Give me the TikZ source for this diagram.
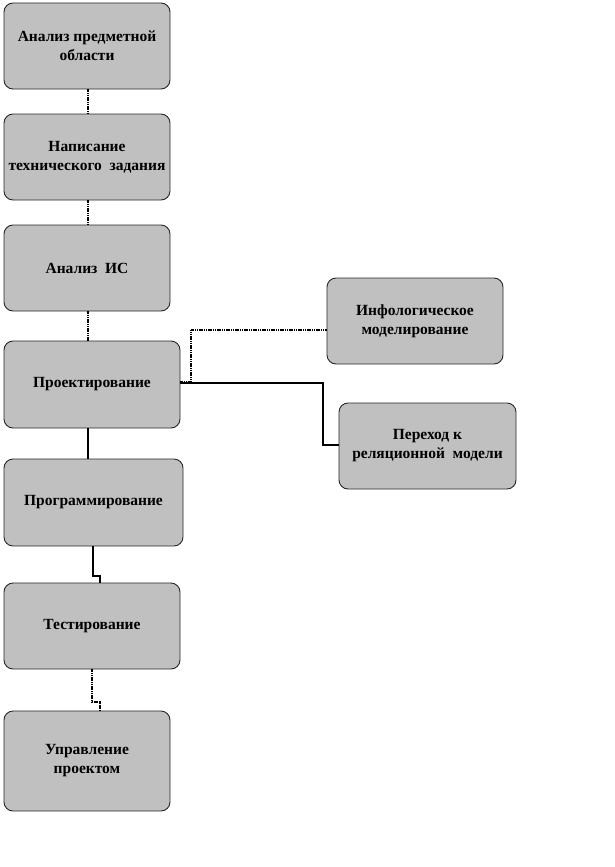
\documentclass[tikz,border=0pt]{standalone}
\usepackage{fontspec}
\setmainfont{Liberation Serif}
\definecolor{boxgray}{RGB}{192,192,192}
\definecolor{edgegray}{RGB}{40,40,40}
\begin{document}
\begin{tikzpicture}[x=1pt,y=-1pt,
  stage/.style={draw=edgegray, line width=0.9pt, fill=boxgray, rounded corners=9pt,
    align=center, font=\bfseries\fontsize{15.5}{19}\selectfont, inner sep=0pt},
  dotlink/.style={line width=2.8pt, dash pattern=on 1.2pt off 0.6pt},
  sollink/.style={line width=2.8pt}]
\useasboundingbox (0,0) rectangle (615,867);
\node[stage, minimum width=166pt, minimum height=86pt] (a) at (87,46) {Анализ предметной\\области};
\node[stage, minimum width=166pt, minimum height=86pt] (b) at (87,157) {Написание\\технического\ \ задания};
\node[stage, minimum width=166pt, minimum height=86pt] (c) at (87,268) {Анализ\ \ ИС};
\node[stage, minimum width=176pt, minimum height=87pt] (d) at (92,384.5) {Проектирование};
\node[stage, minimum width=179pt, minimum height=87pt] (e) at (93.5,502.5) {Программирование};
\node[stage, minimum width=176pt, minimum height=86pt] (f) at (92,626) {Тестирование};
\node[stage, minimum width=166pt, minimum height=100pt] (g) at (87,761) {Управление\\проектом};
\node[stage, minimum width=176pt, minimum height=86pt] (h) at (415,321) {Инфологическое\\моделирование};
\node[stage, minimum width=177pt, minimum height=86pt] (i) at (427.5,446) {Переход к\\реляционной\ \ модели};
\draw[dotlink] (a.south -| 88,0) -- (b.north -| 88,0);
\draw[dotlink] (b.south -| 88,0) -- (c.north -| 88,0);
\draw[dotlink] (c.south -| 88,0) -- (d.north -| 88,0);
\draw[sollink] (d.south -| 88,0) -- (e.north -| 88,0);
\coordinate (ej) at (93,576);
\draw[sollink] (e.south -| 93,0) -- (ej) -- (100,576) -- (f.north -| 100,0);
\draw[dotlink] (f.south -| 92,0) -- (92,702) -- (100,702) -- (g.north -| 100,0);
\coordinate (dj) at (191,382);
\draw[dotlink] (d.east |- 0,382) -- (dj) -- (191,330) -- (h.west |- 0,330);
\draw[sollink] (d.east |- 0,383) -- (323,383) -- (323,445) -- (i.west |- 0,445);
\end{tikzpicture}
\end{document}
